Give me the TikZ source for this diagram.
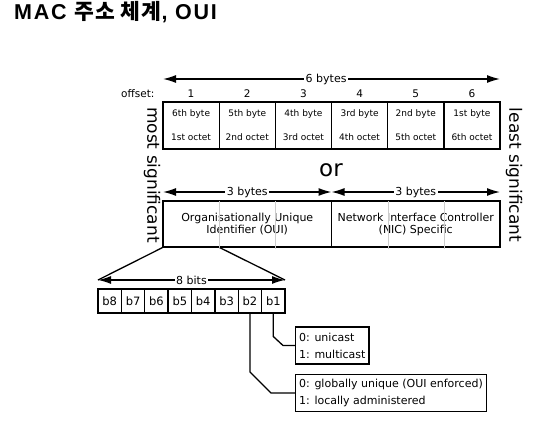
\documentclass[tikz,border=0pt]{standalone}
\usepackage{fontspec}
\setmainfont{Liberation Sans}
\newfontfamily\dejavu{DejaVu Sans}
\newfontfamily\cjk{Noto Sans CJK KR}
\newfontfamily\titlefont{Liberation Sans}[LetterSpace=8]
\newfontfamily\cjktitle{Noto Sans CJK KR}[LetterSpace=5]
\usetikzlibrary{arrows.meta, positioning}

\tikzset{
    bytecell/.style={draw, line width=1.3pt, minimum width=56.17pt, minimum height=47pt, inner sep=0pt, align=center, font=\dejavu\fontsize{9}{24}\selectfont},
    bitcell/.style={draw, line width=1.3pt, minimum width=23.375pt, minimum height=24pt, inner sep=0pt, font=\dejavu\fontsize{11.5}{13}\selectfont},
    halfbox/.style={draw, line width=1.3pt, minimum width=168.5pt, minimum height=46pt, inner sep=0pt, align=center, font=\dejavu\fontsize{11}{12}\selectfont},
    legendbox/.style={draw, line width=1.3pt, anchor=west, align=left, inner xsep=3.5pt, inner ysep=2pt, minimum height=37pt, font=\dejavu\fontsize{11}{17}\selectfont},
    offnum/.style={anchor=base, font=\dejavu\fontsize{10.5}{12}\selectfont},
    spanarrow/.style={line width=1.3pt, {Latex[length=13pt,width=8pt]}-{Latex[length=13pt,width=8pt]}},
    spanlabel/.style={fill=white, inner sep=1.5pt, font=\dejavu\fontsize{11}{13}\selectfont},
    sidetext/.style={rotate=-90, font=\dejavu\fontsize{17}{20}\selectfont},
    wire/.style={line width=1.3pt},
    faint/.style={line width=1pt, draw=black!20},
}

\begin{document}
\begin{tikzpicture}[x=1pt, y=-1pt]
    \useasboundingbox (0,0) rectangle (538,424);

    \node[anchor=base west, inner sep=0pt, font=\titlefont\bfseries\fontsize{21.5}{24}\selectfont] (title) at (14,19.5) {MAC {\cjktitle 주소 체계}, OUI};

    % six bytes
    \foreach \i/\bname/\oname in {1/6th/1st, 2/5th/2nd, 3/4th/3rd, 4/3rd/4th, 5/2nd/5th, 6/1st/6th} {
        \node[bytecell] (byte\i) at ({163+56.17*(\i-0.5)},125.5) {\bname\ byte\\\oname\ octet};
        \node[offnum] (off\i) at ({163+56.17*(\i-0.5)},97.5) {\i};
    }
    \node[offnum, anchor=base east] (offlabel) at (158,97.5) {offset:};

    \coordinate (six l) at (163,79);
    \coordinate (six r) at (500,79);
    \draw[spanarrow] (six l) -- node[spanlabel, pos=0.484] (sixlabel) {6 bytes} (six r);

    \node[sidetext] (msb) at (152,175) {most significant};
    \node[sidetext] (lsb) at (514,175) {least significant};

    \node[font=\dejavu\fontsize{23}{26}\selectfont] (or) at (331,170) {or};

    % OUI and NIC halves
    \coordinate (oui l) at (163,192);
    \coordinate (mid) at (331.5,192);
    \coordinate (nic r) at (500,192);
    \draw[spanarrow] (oui l) -- node[spanlabel] (ouibytes) {3 bytes} (mid);
    \draw[spanarrow] (mid) -- node[spanlabel] (nicbytes) {3 bytes} (nic r);

    \node[halfbox] (oui) at (247.25,224) {Organisationally Unique\\Identifier (OUI)};
    \node[halfbox] (nic) at (415.75,224) {Network Interface Controller\\(NIC) Specific};
    \foreach \i in {1,2,4,5}
    \draw[faint] (byte\i.east |- oui.north) ++(0,1) -- ([yshift=-1pt]byte\i.east |- oui.south);

    % eight bits
    \foreach \b in {1,...,8}
    \node[bitcell] (bit\b) at ({98+23.375*(8.5-\b)},301) {b\b};

    \coordinate (bits l) at (98,280);
    \coordinate (bits r) at (285,280);
    \draw[spanarrow] (bits l) -- node[spanlabel] (bitslabel) {8 bits} (bits r);
    \draw[wire] (oui.south west) -- (bits l);
    \draw[wire] (byte1.east |- oui.south) -- (bits r);

    \node[legendbox] (cast) at (295,345.5) {0: unicast\\1: multicast};
    \node[legendbox] (admin) at (295,393) {0: globally unique (OUI enforced)\\1: locally administered};

    \draw[wire] (bit1.south) -- (bit1.south |- 0,336.5) -- ([xshift=-12pt]cast.west) -- (cast.west);
    \draw[wire] (bit2.south) -- (bit2.south |- 0,372) -- ([xshift=-24pt]admin.west) -- (admin.west);
\end{tikzpicture}
\end{document}
